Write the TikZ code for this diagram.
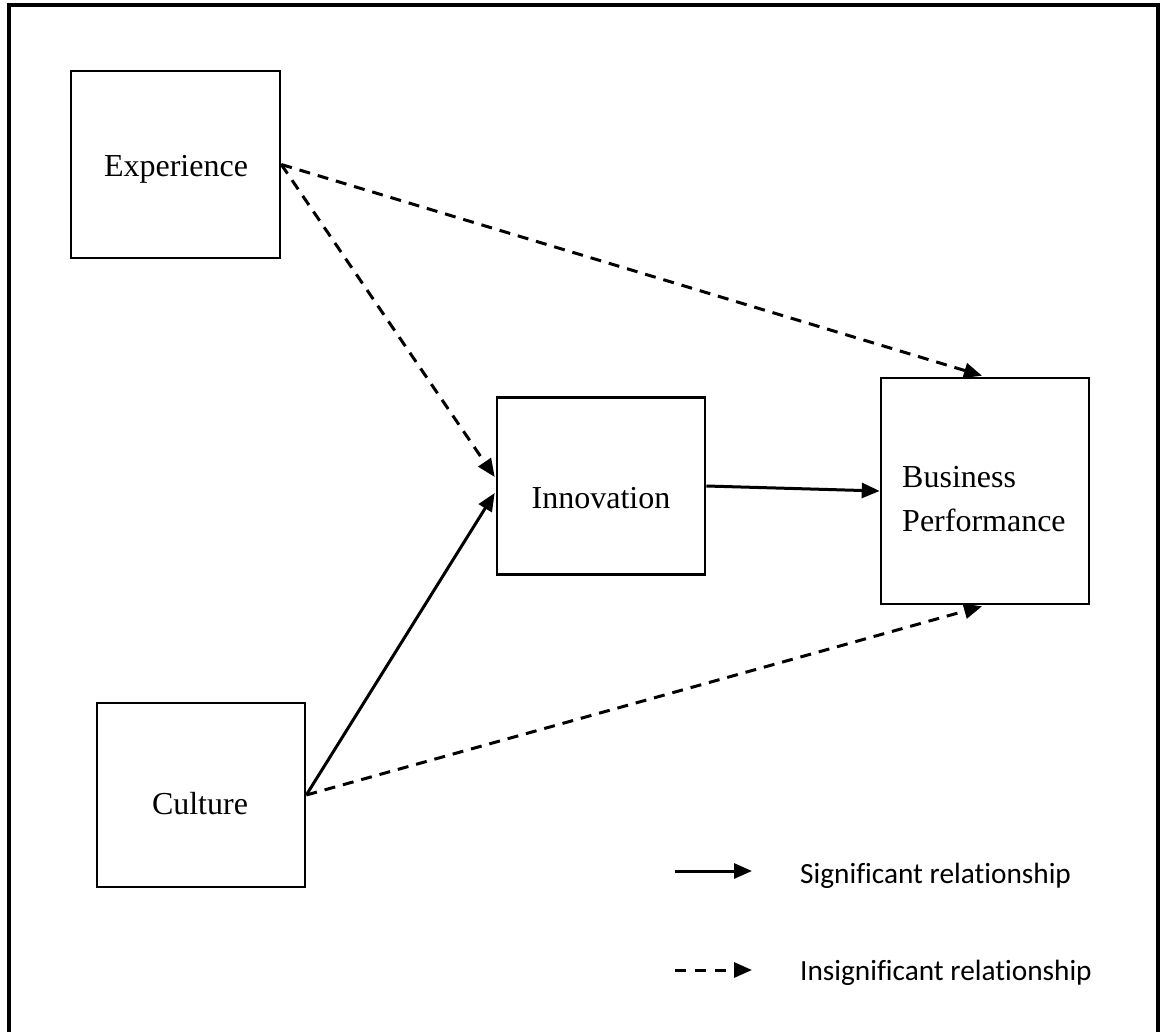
\documentclass[tikz,border=0pt]{standalone}
\usepackage{fontspec}
\setmainfont{Liberation Serif}
\newfontfamily\legendfont[Ligatures=NoCommon]{Carlito}
\usetikzlibrary{arrows.meta,calc}

\tikzset{
  varbox/.style={draw, line width=2.6pt, rectangle, inner sep=0pt},
  boxtext/.style={font=\fontsize{32}{44}\selectfont, inner sep=0pt},
  link/.style={line width=3pt, -{Triangle[length=18pt,width=15pt]}},
  weak/.style={link, dash pattern=on 11pt off 8pt},
  legendtext/.style={font=\legendfont\fontsize{29.3}{35}\selectfont, inner sep=0pt, anchor=base west}
}

\begin{document}
\begin{tikzpicture}[x=1pt, y=-1pt]
  \useasboundingbox (0,0) rectangle (1162,1032);
  % outer frame (runs past the lower edge of the page)
  \draw[line width=3.2pt] (9,5) rectangle (1158,1050);

  % construct boxes
  \node[varbox, minimum width=209pt, minimum height=187pt] (exp) at (175.5,164.5) {};
  \node[varbox, minimum width=208pt, minimum height=177pt] (inn) at (601,486) {};
  \node[varbox, minimum width=208pt, minimum height=226pt] (bus) at (985,491) {};
  \node[varbox, minimum width=208pt, minimum height=184pt] (cul) at (201,795) {};

  % box labels
  \node[boxtext, anchor=base] (expt) at (176,177) {Experience};
  \node[boxtext, anchor=base] (innt) at (601,508) {Innovation};
  \node[boxtext, anchor=base west, align=left] (bust) at (902,531) {Business\\Performance};
  \node[boxtext, anchor=base] (cult) at (200,814) {Culture};

  % relationships
  \draw[weak] (exp.east) -- ($(inn.west)+(-1,-9)$);
  \draw[weak] (exp.east) -- ($(bus.north)+(-3,-1)$);
  \draw[link] (cul.east) -- ($(inn.west)+(-1,7)$);
  \draw[weak] (cul.east) -- ($(bus.south)+(-3,1)$);
  \draw[link] (inn.east) -- (bus.west);

  % legend
  \coordinate (s0) at (675,871);
  \coordinate (s1) at (752,871);
  \coordinate (d0) at (675,970);
  \coordinate (d1) at (752,970);
  \draw[link] (s0) -- (s1);
  \draw[weak, dash pattern=on 11pt off 9pt] (d0) -- (d1);
  \node[legendtext] (sig) at (800,883) {Significant relationship};
  \node[legendtext] (insig) at (800,980) {Insignificant relationship};
\end{tikzpicture}
\end{document}
